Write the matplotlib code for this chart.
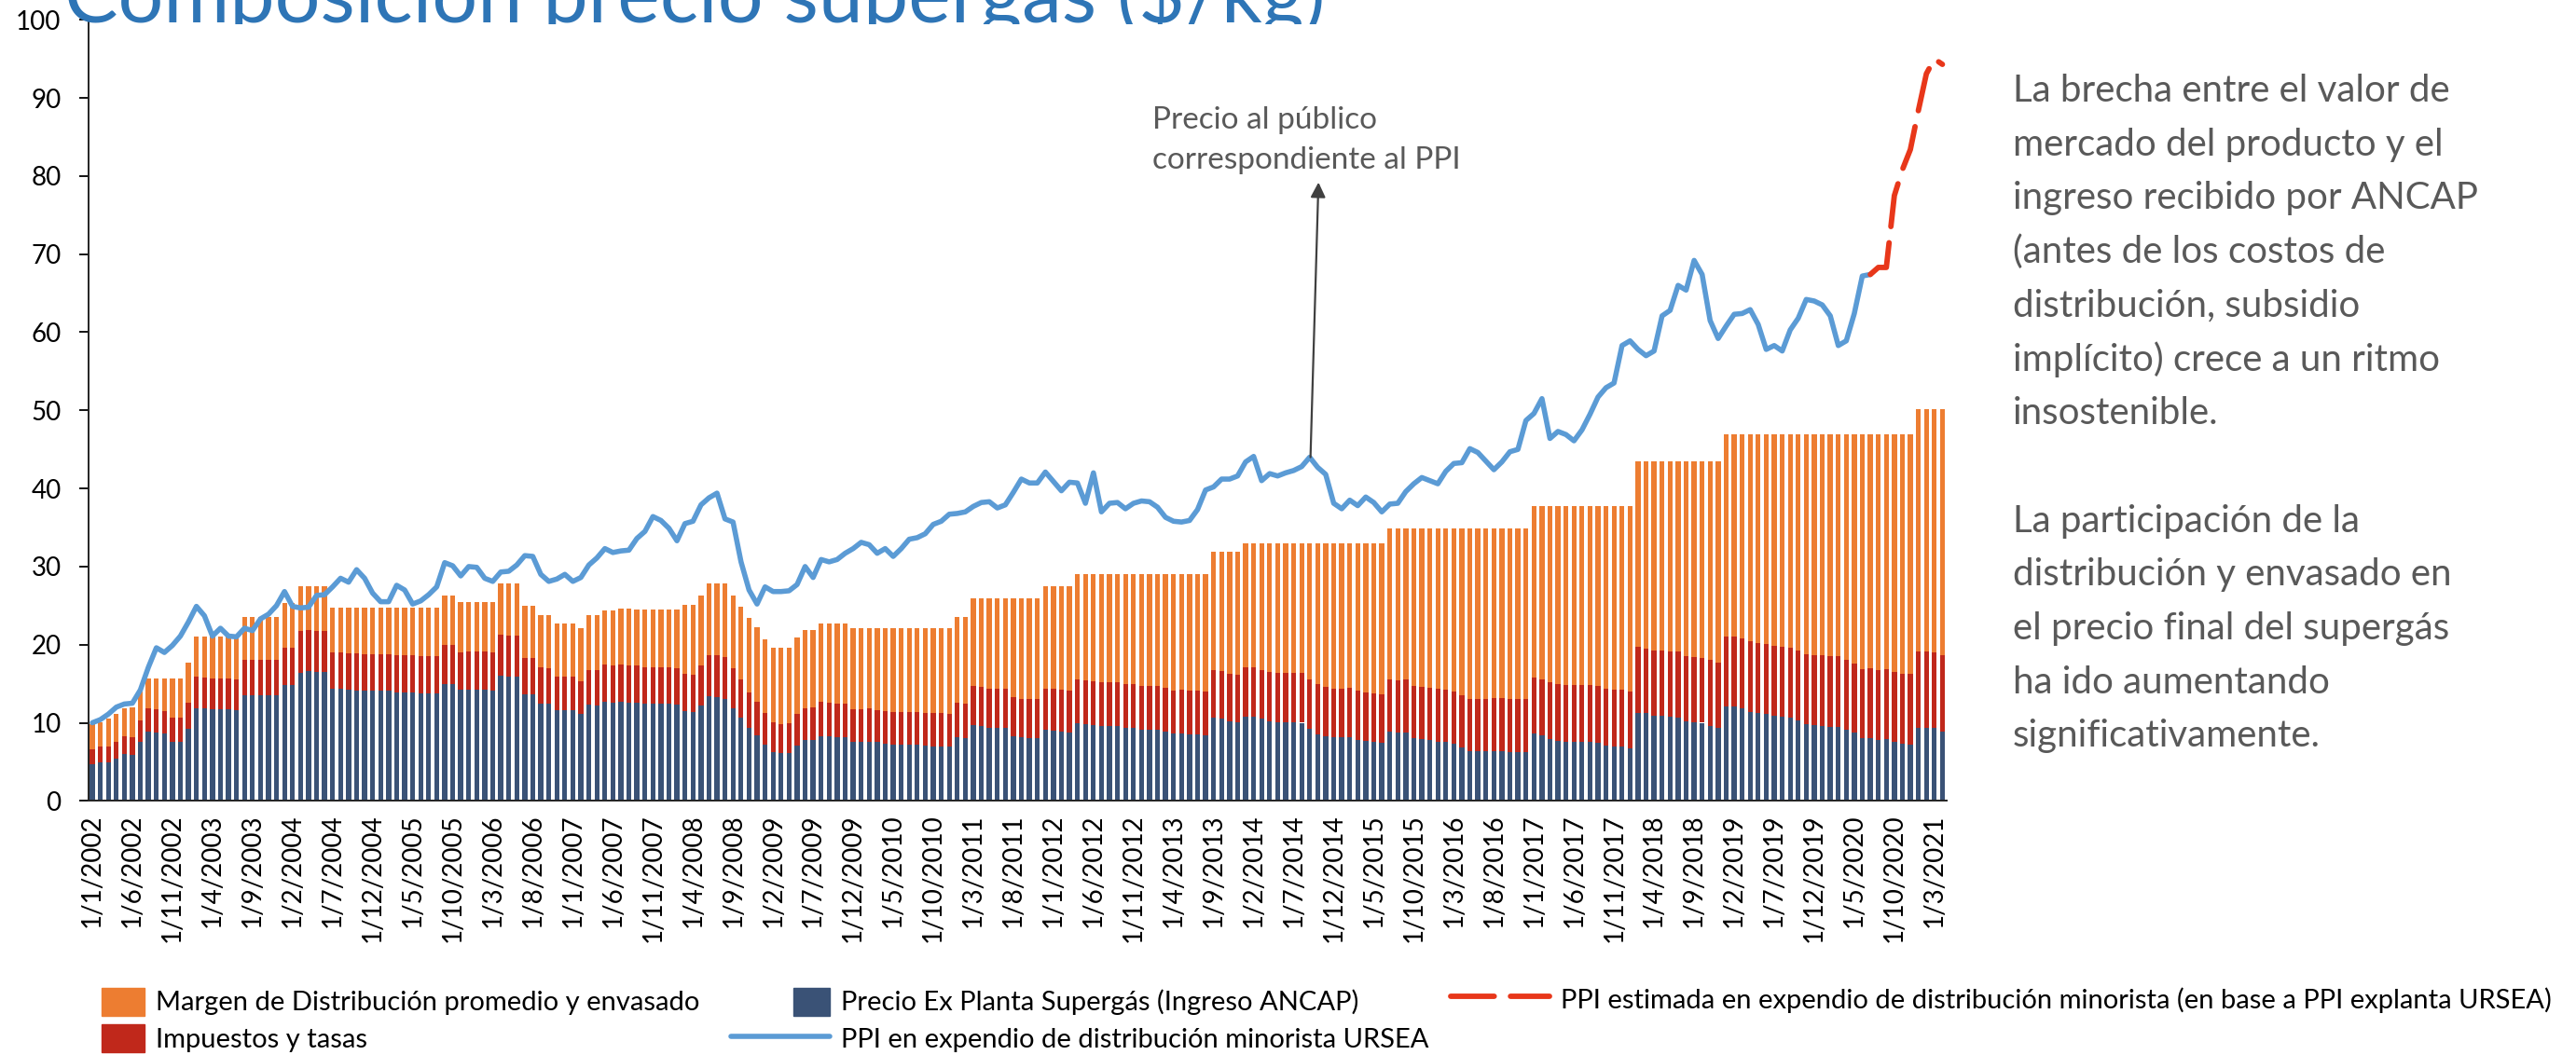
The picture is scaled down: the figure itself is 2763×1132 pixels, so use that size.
import numpy as np
import pandas as pd
import matplotlib
matplotlib.use('Agg')
import matplotlib.pyplot as plt
import matplotlib.patches as mpatches
from matplotlib.legend_handler import HandlerPatch
from matplotlib.transforms import Bbox, TransformedBbox

plt.rcParams['font.family'] = ['Lato', 'DejaVu Sans']

# Categorias mensuales 1/2002 .. 4/2021
meses = pd.date_range('2002-01-01', '2021-04-01', freq='MS')
categorias = ['1/%d/%d' % (m.month, m.year) for m in meses]

# Precio Ex Planta Supergas (Ingreso ANCAP), $/kg
ex_planta = [
    4.7, 4.9, 4.9, 5.4, 6.0, 5.9, 7.6, 8.9, 8.7, 8.6, 7.6, 7.6,
    9.2, 11.9, 11.8, 11.7, 11.7, 11.7, 11.6, 13.5, 13.5, 13.5, 13.5, 13.5,
    14.8, 14.8, 16.4, 16.6, 16.5, 16.5, 14.3, 14.3, 14.2, 14.1, 14.1, 14.1,
    14.1, 14.1, 13.9, 13.9, 13.9, 13.8, 13.8, 13.8, 15.0, 15.0, 14.2, 14.2,
    14.2, 14.2, 14.1, 16.0, 15.9, 15.9, 13.6, 13.6, 12.5, 12.4, 11.6, 11.6,
    11.6, 11.1, 12.3, 12.2, 12.7, 12.6, 12.7, 12.6, 12.6, 12.4, 12.4, 12.4,
    12.4, 12.3, 11.5, 11.4, 12.2, 13.4, 13.3, 13.1, 11.9, 10.7, 9.4, 8.4,
    7.2, 6.2, 6.1, 6.1, 7.1, 7.8, 7.8, 8.3, 8.3, 8.1, 8.1, 7.6,
    7.6, 7.6, 7.5, 7.3, 7.2, 7.2, 7.2, 7.2, 7.1, 7.0, 6.9, 6.9,
    8.1, 8.0, 9.7, 9.6, 9.4, 9.3, 9.3, 8.3, 8.2, 8.0, 8.0, 9.1,
    9.0, 8.9, 8.8, 9.9, 9.8, 9.7, 9.6, 9.6, 9.6, 9.4, 9.3, 9.1,
    9.1, 9.1, 8.9, 8.6, 8.6, 8.5, 8.5, 8.4, 10.7, 10.5, 10.2, 10.1,
    10.8, 10.8, 10.5, 10.2, 10.1, 10.1, 10.1, 10.0, 9.2, 8.5, 8.3, 8.1,
    8.1, 8.2, 7.8, 7.7, 7.6, 7.4, 8.9, 8.7, 8.7, 8.0, 7.9, 7.8,
    7.6, 7.5, 7.3, 6.8, 6.4, 6.4, 6.4, 6.4, 6.4, 6.3, 6.3, 6.3,
    8.6, 8.4, 7.9, 7.7, 7.6, 7.5, 7.6, 7.6, 7.4, 7.1, 7.0, 7.0,
    6.7, 11.3, 11.2, 10.9, 10.9, 10.8, 10.7, 10.2, 10.1, 10.0, 9.6, 9.4,
    12.1, 12.1, 11.8, 11.4, 11.3, 11.1, 10.9, 10.8, 10.7, 10.3, 9.8, 9.7,
    9.6, 9.5, 9.5, 9.1, 8.7, 8.0, 8.0, 7.8, 7.9, 7.5, 7.3, 7.2,
    9.4, 9.4, 9.3, 8.9,
]

# Impuestos y tasas
impuestos = [
    1.9, 2.0, 2.0, 2.1, 2.3, 2.3, 2.7, 3.0, 3.0, 2.9, 3.0, 3.0,
    3.4, 4.0, 4.0, 4.0, 4.0, 4.0, 4.0, 4.5, 4.5, 4.5, 4.5, 4.5,
    4.8, 4.8, 5.4, 5.3, 5.3, 5.2, 4.7, 4.7, 4.7, 4.8, 4.7, 4.7,
    4.7, 4.7, 4.8, 4.8, 4.8, 4.7, 4.7, 4.7, 5.0, 5.0, 4.8, 4.9,
    4.9, 4.9, 4.9, 5.3, 5.3, 5.3, 4.7, 4.7, 4.6, 4.6, 4.3, 4.3,
    4.3, 4.2, 4.5, 4.6, 4.7, 4.7, 4.7, 4.7, 4.7, 4.7, 4.7, 4.7,
    4.7, 4.7, 4.8, 4.8, 5.1, 5.3, 5.3, 5.3, 5.1, 4.8, 4.5, 4.3,
    4.0, 3.8, 3.7, 3.8, 4.0, 4.1, 4.2, 4.4, 4.3, 4.3, 4.3, 4.1,
    4.1, 4.2, 4.1, 4.2, 4.2, 4.2, 4.2, 4.2, 4.1, 4.2, 4.3, 4.2,
    4.5, 4.5, 5.0, 5.0, 5.0, 5.0, 5.0, 5.0, 4.9, 5.0, 5.0, 5.3,
    5.3, 5.3, 5.3, 5.7, 5.6, 5.6, 5.6, 5.6, 5.6, 5.6, 5.6, 5.6,
    5.6, 5.6, 5.6, 5.5, 5.6, 5.6, 5.6, 5.6, 6.1, 6.1, 6.1, 6.1,
    6.3, 6.3, 6.3, 6.3, 6.3, 6.3, 6.3, 6.4, 6.4, 6.4, 6.3, 6.2,
    6.2, 6.3, 6.3, 6.2, 6.2, 6.2, 6.7, 6.7, 6.8, 6.7, 6.7, 6.7,
    6.7, 6.7, 6.7, 6.7, 6.7, 6.7, 6.6, 6.8, 6.8, 6.7, 6.7, 6.7,
    7.2, 7.1, 7.3, 7.2, 7.2, 7.3, 7.2, 7.2, 7.3, 7.2, 7.2, 7.2,
    7.3, 8.4, 8.3, 8.3, 8.3, 8.3, 8.4, 8.3, 8.3, 8.3, 8.4, 8.3,
    8.9, 8.9, 9.0, 9.0, 8.9, 9.0, 9.0, 8.9, 8.9, 8.9, 9.0, 8.9,
    9.0, 9.0, 9.0, 9.0, 8.9, 8.9, 9.0, 9.0, 9.0, 9.0, 9.0, 9.1,
    9.7, 9.7, 9.7, 9.7,
]

# Precio final al publico (altura total de la barra)
precio_final = [
    9.80, 10.08, 10.59, 11.11, 11.90, 11.94, 14.04, 15.62, 15.62, 15.62, 15.62, 15.62,
    17.72, 21.09, 21.09, 21.09, 21.09, 21.09, 21.09, 23.54, 23.54, 23.54, 23.54, 23.54,
    25.29, 25.29, 27.43, 27.43, 27.43, 27.43, 24.77, 24.77, 24.77, 24.77, 24.77, 24.77,
    24.77, 24.77, 24.77, 24.77, 24.77, 24.77, 24.77, 24.77, 26.25, 26.25, 25.42, 25.42,
    25.42, 25.42, 25.42, 27.80, 27.80, 27.80, 24.94, 24.94, 23.74, 23.74, 22.71, 22.71,
    22.71, 22.11, 23.74, 23.74, 24.42, 24.42, 24.58, 24.58, 24.54, 24.54, 24.54, 24.54,
    24.54, 24.54, 25.10, 25.10, 26.33, 27.84, 27.84, 27.84, 26.33, 24.90, 23.38, 22.23,
    20.72, 19.57, 19.57, 19.57, 20.92, 21.83, 21.83, 22.67, 22.67, 22.67, 22.67, 22.07,
    22.07, 22.07, 22.07, 22.07, 22.07, 22.07, 22.07, 22.07, 22.07, 22.07, 22.07, 22.07,
    23.50, 23.50, 25.89, 25.89, 25.89, 25.89, 25.89, 25.89, 25.89, 25.89, 25.89, 27.44,
    27.44, 27.44, 27.44, 29.03, 29.03, 29.03, 29.03, 29.03, 29.03, 29.03, 29.03, 29.03,
    29.03, 29.03, 29.03, 29.03, 29.03, 29.03, 29.03, 29.03, 31.90, 31.90, 31.90, 31.90,
    32.93, 32.93, 32.93, 32.93, 32.93, 32.93, 32.93, 32.93, 32.93, 32.93, 32.93, 32.93,
    32.93, 32.93, 32.93, 32.93, 32.93, 32.93, 34.93, 34.93, 34.93, 34.93, 34.93, 34.93,
    34.93, 34.93, 34.93, 34.93, 34.93, 34.93, 34.93, 34.93, 34.93, 34.93, 34.93, 34.93,
    37.76, 37.76, 37.76, 37.76, 37.76, 37.76, 37.76, 37.76, 37.76, 37.76, 37.76, 37.76,
    37.76, 43.45, 43.45, 43.45, 43.45, 43.45, 43.45, 43.45, 43.45, 43.45, 43.45, 43.45,
    46.90, 46.90, 46.90, 46.90, 46.90, 46.90, 46.90, 46.90, 46.90, 46.90, 46.90, 46.90,
    46.90, 46.90, 46.90, 46.90, 46.90, 46.90, 46.90, 46.90, 46.90, 46.90, 46.90, 46.90,
    50.10, 50.10, 50.10, 50.10,
]

# PPI en expendio de distribucion minorista URSEA (1/2002 .. 7/2020)
ppi_ursea = [
    10.0, 10.4, 11.1, 12.0, 12.4, 12.5, 14.2, 17.1, 19.6, 19.0, 19.9, 21.1,
    22.9, 24.9, 23.7, 21.1, 22.1, 21.1, 21.0, 22.1, 21.8, 23.3, 23.9, 25.0,
    26.8, 24.9, 24.7, 24.8, 26.3, 26.4, 27.4, 28.5, 28.0, 29.6, 28.5, 26.6,
    25.5, 25.5, 27.6, 27.0, 25.2, 25.6, 26.4, 27.4, 30.5, 30.1, 28.8, 30.0,
    29.9, 28.5, 28.1, 29.3, 29.4, 30.2, 31.4, 31.3, 29.0, 28.1, 28.4, 29.0,
    28.1, 28.6, 30.2, 31.1, 32.3, 31.8, 32.0, 32.1, 33.6, 34.5, 36.4, 35.9,
    34.9, 33.3, 35.5, 35.8, 37.9, 38.8, 39.4, 36.1, 35.7, 30.6, 27.0, 25.2,
    27.4, 26.8, 26.8, 26.9, 27.7, 30.0, 28.6, 30.9, 30.6, 30.9, 31.7, 32.3,
    33.1, 32.8, 31.7, 32.3, 31.3, 32.3, 33.5, 33.7, 34.2, 35.4, 35.8, 36.7,
    36.8, 37.0, 37.7, 38.2, 38.3, 37.5, 37.9, 39.5, 41.2, 40.7, 40.7, 42.1,
    40.9, 39.7, 40.8, 40.7, 38.1, 42.0, 37.0, 38.1, 38.2, 37.4, 38.1, 38.4,
    38.3, 37.6, 36.3, 35.8, 35.7, 35.9, 37.3, 39.8, 40.2, 41.2, 41.2, 41.6,
    43.4, 44.1, 41.0, 41.9, 41.6, 42.0, 42.3, 42.8, 44.0, 42.7, 41.8, 38.1,
    37.4, 38.5, 37.8, 38.9, 38.2, 37.0, 38.0, 38.1, 39.6, 40.6, 41.4, 41.0,
    40.6, 42.2, 43.2, 43.3, 45.1, 44.6, 43.5, 42.4, 43.4, 44.7, 45.0, 48.7,
    49.6, 51.5, 46.4, 47.3, 46.9, 46.1, 47.5, 49.5, 51.7, 52.9, 53.5, 58.3,
    58.9, 57.8, 57.0, 57.6, 62.1, 62.8, 66.0, 65.4, 69.2, 67.4, 61.5, 59.2,
    60.8, 62.3, 62.4, 62.9, 61.0, 57.8, 58.3, 57.6, 60.3, 61.8, 64.2, 64.0,
    63.5, 62.1, 58.3, 58.9, 62.4, 67.2, 67.4,
]

# PPI estimada (7/2020 .. 4/2021)
ppi_estimada = [67.4, 68.3, 68.3, 77.5, 80.8, 83.4, 88.4, 93.1, 95.0, 94.3]

NARANJA = '#ED7D31'
ROJO = '#C0281B'
AZUL_OSC = '#3A5276'
AZUL = '#5B9BD5'
ROJO_LINEA = '#E8371A'
GRIS = '#595959'

W, H = 2763, 1132
fig = plt.figure(figsize=(W / 100, H / 100), dpi=100)
fig.patch.set_facecolor('white')

# title sits partly above the image, chart area hides its descenders
titulo = fig.text(69 / W, 1 - 23 / H, 'Composición precio supergás ($/kg)',
                  fontsize=62, color='#2E75B6',
                  ha='left', va='baseline')
titulo.set_clip_box(TransformedBbox(Bbox([[0, 1 - 26 / H], [1, 1]]), fig.transFigure))
titulo.set_clip_on(True)

ax = fig.add_axes([94.7 / W, 1 - 859.3 / H, 1993 / W, 838 / H])

x = np.arange(len(categorias))
ex = np.array(ex_planta)
imp = np.array(impuestos)
margen = np.array(precio_final) - ex - imp

ancho = 0.62
ax.bar(x, ex, width=ancho, color=AZUL_OSC, zorder=2)
ax.bar(x, imp, width=ancho, bottom=ex, color=ROJO, zorder=2)
ax.bar(x, margen, width=ancho, bottom=ex + imp, color=NARANJA, zorder=2)

n = len(ppi_ursea)
linea_ppi, = ax.plot(x[:n], ppi_ursea, color=AZUL, lw=4.0,
                     solid_joinstyle='round', solid_capstyle='round', zorder=3)
linea_est, = ax.plot(x[n - 1:], ppi_estimada, color=ROJO_LINEA, lw=4.2,
                     linestyle=(0, (8, 3)), dash_capstyle='round', zorder=3)

ax.set_xlim(-0.5, len(categorias) - 0.5)
ax.set_ylim(0, 100)
ax.set_yticks(range(0, 101, 10))
ax.set_xticks(x[::5])
ax.set_xticklabels(categorias[::5], rotation=90)
ax.tick_params(axis='x', length=0, pad=10, labelsize=20)
ax.tick_params(axis='y', length=7, width=1.3, pad=14, labelsize=20)
for s in ['top', 'right']:
    ax.spines[s].set_visible(False)
for s in ['left', 'bottom']:
    ax.spines[s].set_linewidth(1.4)
    ax.spines[s].set_color('#222222')

# annotation on the PPI line
ax.annotate('', xy=(153.1, 79.2), xytext=(152.1, 44.0),
            arrowprops=dict(arrowstyle='-|>', color='#404040', lw=1.6,
                            mutation_scale=24, shrinkA=0, shrinkB=0))
ax.text(132.3, 86.1, 'Precio al público', ha='left', va='baseline',
        fontsize=24, color=GRIS)
ax.text(132.3, 80.9, 'correspondiente al PPI', ha='left', va='baseline',
        fontsize=24, color=GRIS)

# texto lateral
lineas = ['La brecha entre el valor de', 'mercado del producto y el',
          'ingreso recibido por ANCAP', '(antes de los costos de',
          'distribución, subsidio', 'implícito) crece a un ritmo',
          'insostenible.', '',
          'La participación de la', 'distribución y envasado en',
          'el precio final del supergás', 'ha ido aumentando',
          'significativamente.']
for j, t in enumerate(lineas):
    fig.text(2159 / W, 1 - (109 + 57.7 * j) / H, t, fontsize=29,
             color=GRIS, ha='left', va='baseline')


def caja_angosta(legend, orig_handle, xdescent, ydescent, width, height, fontsize):
    w = height * 46 / 35
    return mpatches.Rectangle((width - xdescent - w, -ydescent), w, height)


fs = 21
leg_kw = dict(frameon=False, fontsize=fs, borderpad=0, borderaxespad=0,
              handletextpad=0.41, handleheight=1.2, labelspacing=0.34)
h_margen = mpatches.Patch(color=NARANJA)
h_imp = mpatches.Patch(color=ROJO)
h_ex = mpatches.Patch(color=AZUL_OSC)

fig.legend([h_margen, h_imp],
           ['Margen de Distribución promedio y envasado', 'Impuestos y tasas'],
           loc='center left', bbox_to_anchor=(109 / W, 1 - 1094.5 / H),
           handlelength=1.58, **leg_kw)
fig.legend([h_ex, linea_ppi],
           ['Precio Ex Planta Supergás (Ingreso ANCAP)',
            'PPI en expendio de distribución minorista URSEA'],
           loc='center left', bbox_to_anchor=(784 / W, 1 - 1094.5 / H),
           handlelength=3.63, handler_map={h_ex: HandlerPatch(patch_func=caja_angosta)},
           **leg_kw)
fig.legend([linea_est],
           ['PPI estimada en expendio de distribución minorista (en base a PPI explanta URSEA)'],
           loc='center left', bbox_to_anchor=(1556 / W, 1 - 1072 / H),
           handlelength=3.63, **leg_kw)

fig.savefig('out.png', dpi=100, facecolor='white')
